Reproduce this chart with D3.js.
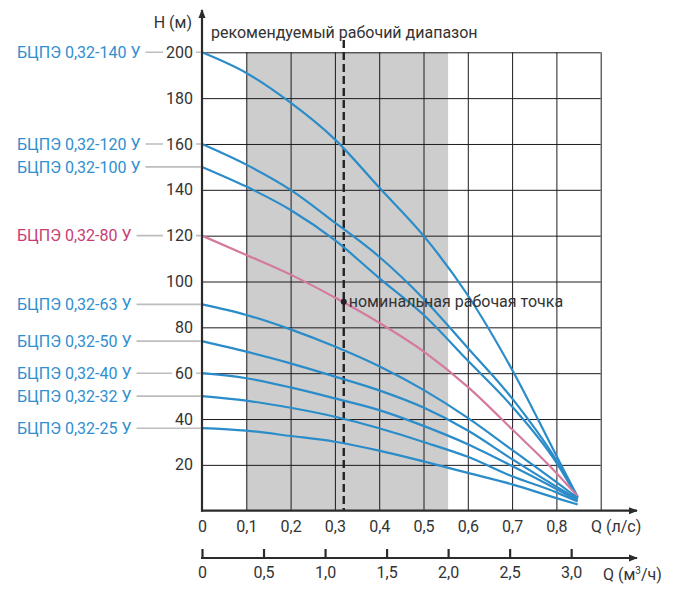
<!DOCTYPE html>
<html><head><meta charset="utf-8">
<script src="https://cdn.jsdelivr.net/npm/d3@7/dist/d3.min.js"></script>
<style>
html,body{margin:0;padding:0;background:#fff;}
svg{display:block;font-family:Roboto,"Noto Sans",sans-serif;}
</style></head>
<body>
<svg id="chart" width="674" height="596"></svg>
<script>
// ---- data ----
const qGrid = [0, 0.1, 0.2, 0.3, 0.4, 0.5, 0.6, 0.7, 0.8, 0.848];
const seriesNames = ["БЦПЭ 0,32-140 У","БЦПЭ 0,32-120 У","БЦПЭ 0,32-100 У","БЦПЭ 0,32-80 У","БЦПЭ 0,32-63 У","БЦПЭ 0,32-50 У","БЦПЭ 0,32-40 У","БЦПЭ 0,32-32 У","БЦПЭ 0,32-25 У"];
const h140 = [200, 191, 178, 162, 141, 120, 94, 61.5, 24, 6];
const h120 = [160, 151, 140, 125.7, 110.8, 92.5, 71, 49, 22, 6];
const h100 = [150, 141.4, 131.2, 118, 101.5, 85.5, 65.5, 45.5, 21, 5.5];
const h80  = [120, 111.6, 103, 93, 82, 69.5, 54, 35.5, 16.5, 6.3];
const h63  = [90, 85.4, 79.1, 71.6, 63, 52.7, 40.5, 26.5, 12.5, 5.5];
const h50  = [74, 69.4, 64.3, 58.5, 52.5, 45, 35, 22.5, 10.5, 5];
const h40  = [60, 57.8, 53.8, 49, 43.9, 37, 29, 19.5, 9.5, 4.5];
const h32  = [50, 48, 44.9, 41, 36, 30, 23.5, 15, 8, 4];
const h25  = [36, 34.9, 32.6, 30.1, 26.2, 21.5, 16.5, 11.5, 5.5, 2.7];
const seriesValues = [h140, h120, h100, h80, h63, h50, h40, h32, h25];
const highlighted = "БЦПЭ 0,32-80 У";
const yTicks = [20, 40, 60, 80, 100, 120, 140, 160, 180, 200];
const xTicksLs = [0, 0.1, 0.2, 0.3, 0.4, 0.5, 0.6, 0.7, 0.8];
const xGridLs = [0.1, 0.2, 0.3, 0.4, 0.5, 0.6, 0.7, 0.8, 0.9];
const xTicksM3h = [0, 0.5, 1.0, 1.5, 2.0, 2.5, 3.0];
const rangeM3h = [0.36, 2.0];       // recommended range, m³/h
const nominalQ = 0.32;              // l/s
const nominalH = 91.2;              // m
const texts = {
  yTitle: "H (м)", xTitle: "Q (л/с)", x2Title: "Q (м³/ч)",
  range: "рекомендуемый рабочий диапазон", nominal: "номинальная рабочая точка"
};

// ---- layout ----
const svg = d3.select("#chart");
const X0 = 202, XR = 600.7, Y0 = 510.7, YT = 52.3, Y2 = 558;
const x = d3.scaleLinear().domain([0, 0.9]).range([X0, XR]);
const x2 = d3.scaleLinear().domain([0, 0.9 * 3.6]).range([X0, XR]);
const y = d3.scaleLinear().domain([0, 200]).range([Y0, YT]);
const fmt = d => d3.format(d === 0 ? "d" : ".1f")(d).replace(".", ",");
const BLUE_LINE = "#2a8cc8", BLUE_TEXT = "#2f8fd0", PINK_LINE = "#d57a9f", PINK_TEXT = "#c83d72";
const DARK = "#2b2b2b";

// recommended range
svg.append("rect")
  .attr("x", x2(rangeM3h[0])).attr("y", y(200))
  .attr("width", x2(rangeM3h[1]) - x2(rangeM3h[0])).attr("height", y(0) - y(200))
  .attr("fill", "#cdcdcd");

// grid
svg.append("g").attr("transform", `translate(0,${Y0})`)
  .call(d3.axisBottom(x).tickValues(xGridLs).tickSize(-(Y0 - YT)).tickFormat(""))
  .call(g => g.select(".domain").remove())
  .call(g => g.selectAll("line").attr("stroke", "#1e1a1f").attr("stroke-width", 1));
svg.append("g").attr("transform", `translate(${X0},0)`)
  .call(d3.axisLeft(y).tickValues(yTicks).tickSize(-(XR - X0)).tickFormat(""))
  .call(g => g.select(".domain").remove())
  .call(g => g.selectAll("line").attr("stroke", "#1e1a1f").attr("stroke-width", 1));

// dashed nominal line
svg.append("line")
  .attr("x1", x(nominalQ)).attr("x2", x(nominalQ))
  .attr("y1", 40).attr("y2", Y0)
  .attr("stroke", "#222").attr("stroke-width", 2.4).attr("stroke-dasharray", "8,4");

// curves
const line = d3.line().x((d, i) => x(qGrid[i])).y(d => y(d)).curve(d3.curveMonotoneX);
seriesNames.forEach((name, i) => {
  svg.append("path").datum(seriesValues[i])
    .attr("d", line).attr("fill", "none")
    .attr("stroke", name === highlighted ? PINK_LINE : BLUE_LINE)
    .attr("stroke-width", 2.2);
});

// axes lines with arrows
svg.append("defs").append("marker").attr("id", "arr")
  .attr("viewBox", "0 0 10 10").attr("refX", 9).attr("refY", 5)
  .attr("markerWidth", 9).attr("markerHeight", 9).attr("markerUnits", "userSpaceOnUse")
  .attr("orient", "auto")
  .append("path").attr("d", "M0,1 L10,5 L0,9 Z").attr("fill", DARK);
svg.append("line").attr("x1", X0).attr("y1", Y0 + 1).attr("x2", X0).attr("y2", 10)
  .attr("stroke", DARK).attr("stroke-width", 2.2).attr("marker-end", "url(#arr)");
svg.append("line").attr("x1", X0 - 1).attr("y1", Y0).attr("x2", 637).attr("y2", Y0)
  .attr("stroke", DARK).attr("stroke-width", 2.2).attr("marker-end", "url(#arr)");

// x axis labels (l/s)
svg.append("g").attr("transform", `translate(0,${Y0})`)
  .call(d3.axisBottom(x).tickValues(xTicksLs).tickSize(0).tickPadding(10).tickFormat(fmt))
  .call(g => g.select(".domain").remove())
  .call(g => g.selectAll("text").attr("font-size", 16).attr("fill", "#333").attr("font-family", "Roboto"));
svg.append("text").attr("x", 591).attr("y", 532).attr("font-size", 16).attr("fill", "#333").text(texts.xTitle);

// second axis (m³/h)
svg.append("line").attr("x1", X0 - 1).attr("y1", Y2).attr("x2", 637).attr("y2", Y2)
  .attr("stroke", DARK).attr("stroke-width", 2.2).attr("marker-end", "url(#arr)");
svg.append("g").attr("transform", `translate(0,${Y2})`)
  .call(d3.axisTop(x2).tickValues(xTicksM3h).tickSize(9).tickFormat(""))
  .call(g => g.select(".domain").remove())
  .call(g => g.selectAll("line").attr("stroke", DARK).attr("stroke-width", 2.2));
svg.append("g").attr("transform", `translate(0,${Y2})`)
  .call(d3.axisBottom(x2).tickValues(xTicksM3h).tickSize(0).tickPadding(9).tickFormat(fmt))
  .call(g => g.select(".domain").remove())
  .call(g => g.selectAll("text").attr("font-size", 16).attr("fill", "#333").attr("font-family", "Roboto"));
svg.append("text").attr("x", 603).attr("y", 580).attr("font-size", 16).attr("fill", "#333")
  .html('Q (м<tspan dy="-6" font-size="10">3</tspan><tspan dy="6">/ч)</tspan>');

// series labels & leader lines
const labelG = svg.append("g");
seriesNames.forEach((name, i) => {
  const h0 = seriesValues[i][0];
  const t = labelG.append("text").attr("x", 17).attr("y", y(h0)).attr("dy", "0.35em")
    .attr("font-size", 16).attr("fill", name === highlighted ? PINK_TEXT : BLUE_TEXT).text(name);
  const end = 17 + t.node().getComputedTextLength();
  labelG.insert("line", "text").attr("x1", end + 5).attr("x2", X0 - 1)
    .attr("y1", y(h0)).attr("y2", y(h0)).attr("stroke", "#bdbdbd").attr("stroke-width", 1.6);
});

// y tick labels with white backing
const yl = svg.append("g").attr("transform", `translate(${X0 - 9},0)`)
  .call(d3.axisLeft(y).tickValues(yTicks).tickSize(0).tickPadding(0))
  .call(g => g.select(".domain").remove())
  .call(g => g.selectAll("text").attr("font-size", 16).attr("fill", "#333").attr("font-family", "Roboto"));
yl.selectAll(".tick").each(function() {
  const tk = d3.select(this), bb = tk.select("text").node().getBBox();
  tk.insert("rect", "text").attr("x", bb.x - 3).attr("y", bb.y + 2).attr("width", bb.width + 6)
    .attr("height", bb.height - 4).attr("fill", "#fff");
});
svg.append("text").attr("x", 192).attr("y", 28).attr("text-anchor", "end")
  .attr("font-size", 16).attr("fill", "#333").text(texts.yTitle);

// titles
svg.append("text").attr("x", 211).attr("y", 38).attr("font-size", 16).attr("fill", "#333").text(texts.range);

// nominal point
svg.append("circle").attr("cx", x(nominalQ)).attr("cy", y(nominalH)).attr("r", 3).attr("fill", "#222");
svg.append("text").attr("x", x(nominalQ) + 5).attr("y", y(nominalH)).attr("dy", "0.35em")
  .attr("font-size", 16).attr("fill", "#333").text(texts.nominal);
</script>
</body></html>
